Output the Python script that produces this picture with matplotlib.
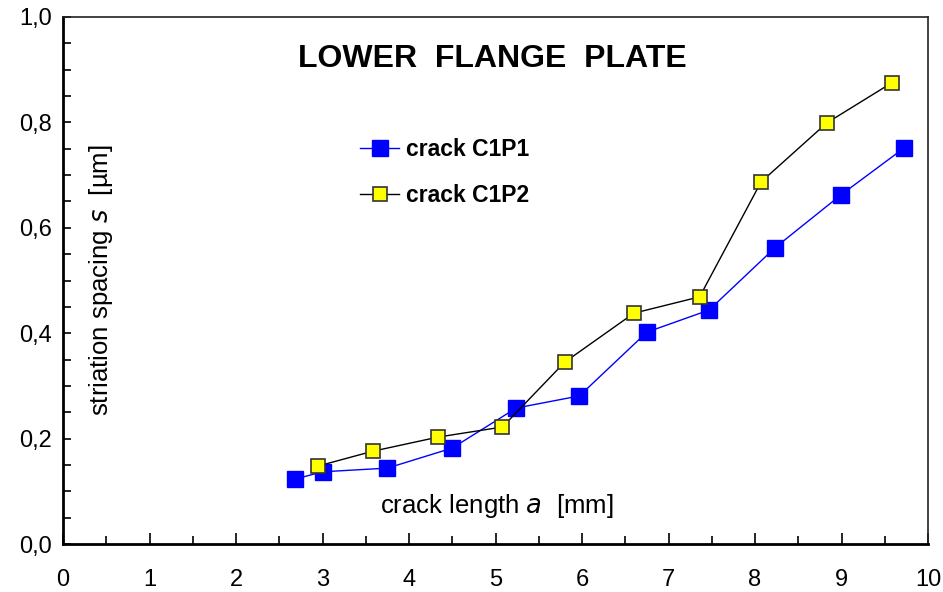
import matplotlib
matplotlib.use("Agg")
import matplotlib.pyplot as plt
from matplotlib.ticker import MultipleLocator, FuncFormatter

plt.rcParams['font.family'] = ['Liberation Sans', 'DejaVu Sans']

c1p1_x = [2.68, 3.00, 3.75, 4.50, 5.24, 5.97, 6.75, 7.47, 8.23, 8.99, 9.72]
c1p1_y = [0.123, 0.137, 0.144, 0.182, 0.258, 0.281, 0.402, 0.444, 0.562, 0.662, 0.751]
c1p2_x = [2.95, 3.58, 4.34, 5.08, 5.80, 6.60, 7.36, 8.07, 8.83, 9.58]
c1p2_y = [0.148, 0.176, 0.203, 0.222, 0.345, 0.438, 0.469, 0.687, 0.799, 0.875]

fig = plt.figure(figsize=(9.43, 5.92), dpi=100)
ax = fig.add_axes([63/943, 48/592, 865/943, 527/592])

l1, = ax.plot(c1p1_x, c1p1_y, color='blue', lw=1, marker='s', markersize=11,
              markerfacecolor='blue', markeredgecolor='blue', label='crack C1P1')
l2, = ax.plot(c1p2_x, c1p2_y, color='black', lw=1, marker='s', markersize=10,
              markerfacecolor='yellow', markeredgecolor='#333333', markeredgewidth=1.2,
              label='crack C1P2')

ax.set_xlim(0, 10)
ax.set_ylim(0, 1.0)
ax.xaxis.set_major_locator(MultipleLocator(1))
ax.xaxis.set_minor_locator(MultipleLocator(0.5))
ax.yaxis.set_major_locator(MultipleLocator(0.2))
ax.yaxis.set_minor_locator(MultipleLocator(0.05))
ax.yaxis.set_major_formatter(FuncFormatter(lambda v, p: f"{v:.1f}".replace('.', ',')))
ax.xaxis.set_major_formatter(FuncFormatter(lambda v, p: f"{int(round(v))}"))

ax.tick_params(axis='both', which='both', direction='in', width=1.2, labelsize=17, color='black')
ax.tick_params(axis='x', which='major', length=8, pad=18)
ax.tick_params(axis='x', which='minor', length=6)
ax.tick_params(axis='y', which='major', length=6, pad=8)
ax.tick_params(axis='y', which='minor', length=6)

for s in ['left', 'bottom']:
    ax.spines[s].set_linewidth(2)
    ax.spines[s].set_color('black')
for s in ['top', 'right']:
    ax.spines[s].set_linewidth(1.2)
    ax.spines[s].set_color('#222222')

ax.text(0.496, 0.92, 'LOWER  FLANGE  PLATE', transform=ax.transAxes, ha='center', va='center',
        fontsize=23, fontweight='bold')

ax.text(0.502, 0.072, r'crack length $\it{a}$  [mm]', transform=ax.transAxes, ha='center', va='center',
        fontsize=18.5)
fig.text(101/943, 1 - 280/592, r'striation spacing $\it{s}$  [µm]', rotation=90, ha='center', va='center',
         fontsize=18.5)

leg = ax.legend(handles=[l1, l2], loc='upper left', bbox_to_anchor=(0.32, 0.81), frameon=False,
                prop={'weight': 'bold', 'size': 16.5}, handlelength=1.7, handletextpad=0.3,
                labelspacing=1.0, markerscale=1.0)

fig.savefig('out.png', dpi=100)
